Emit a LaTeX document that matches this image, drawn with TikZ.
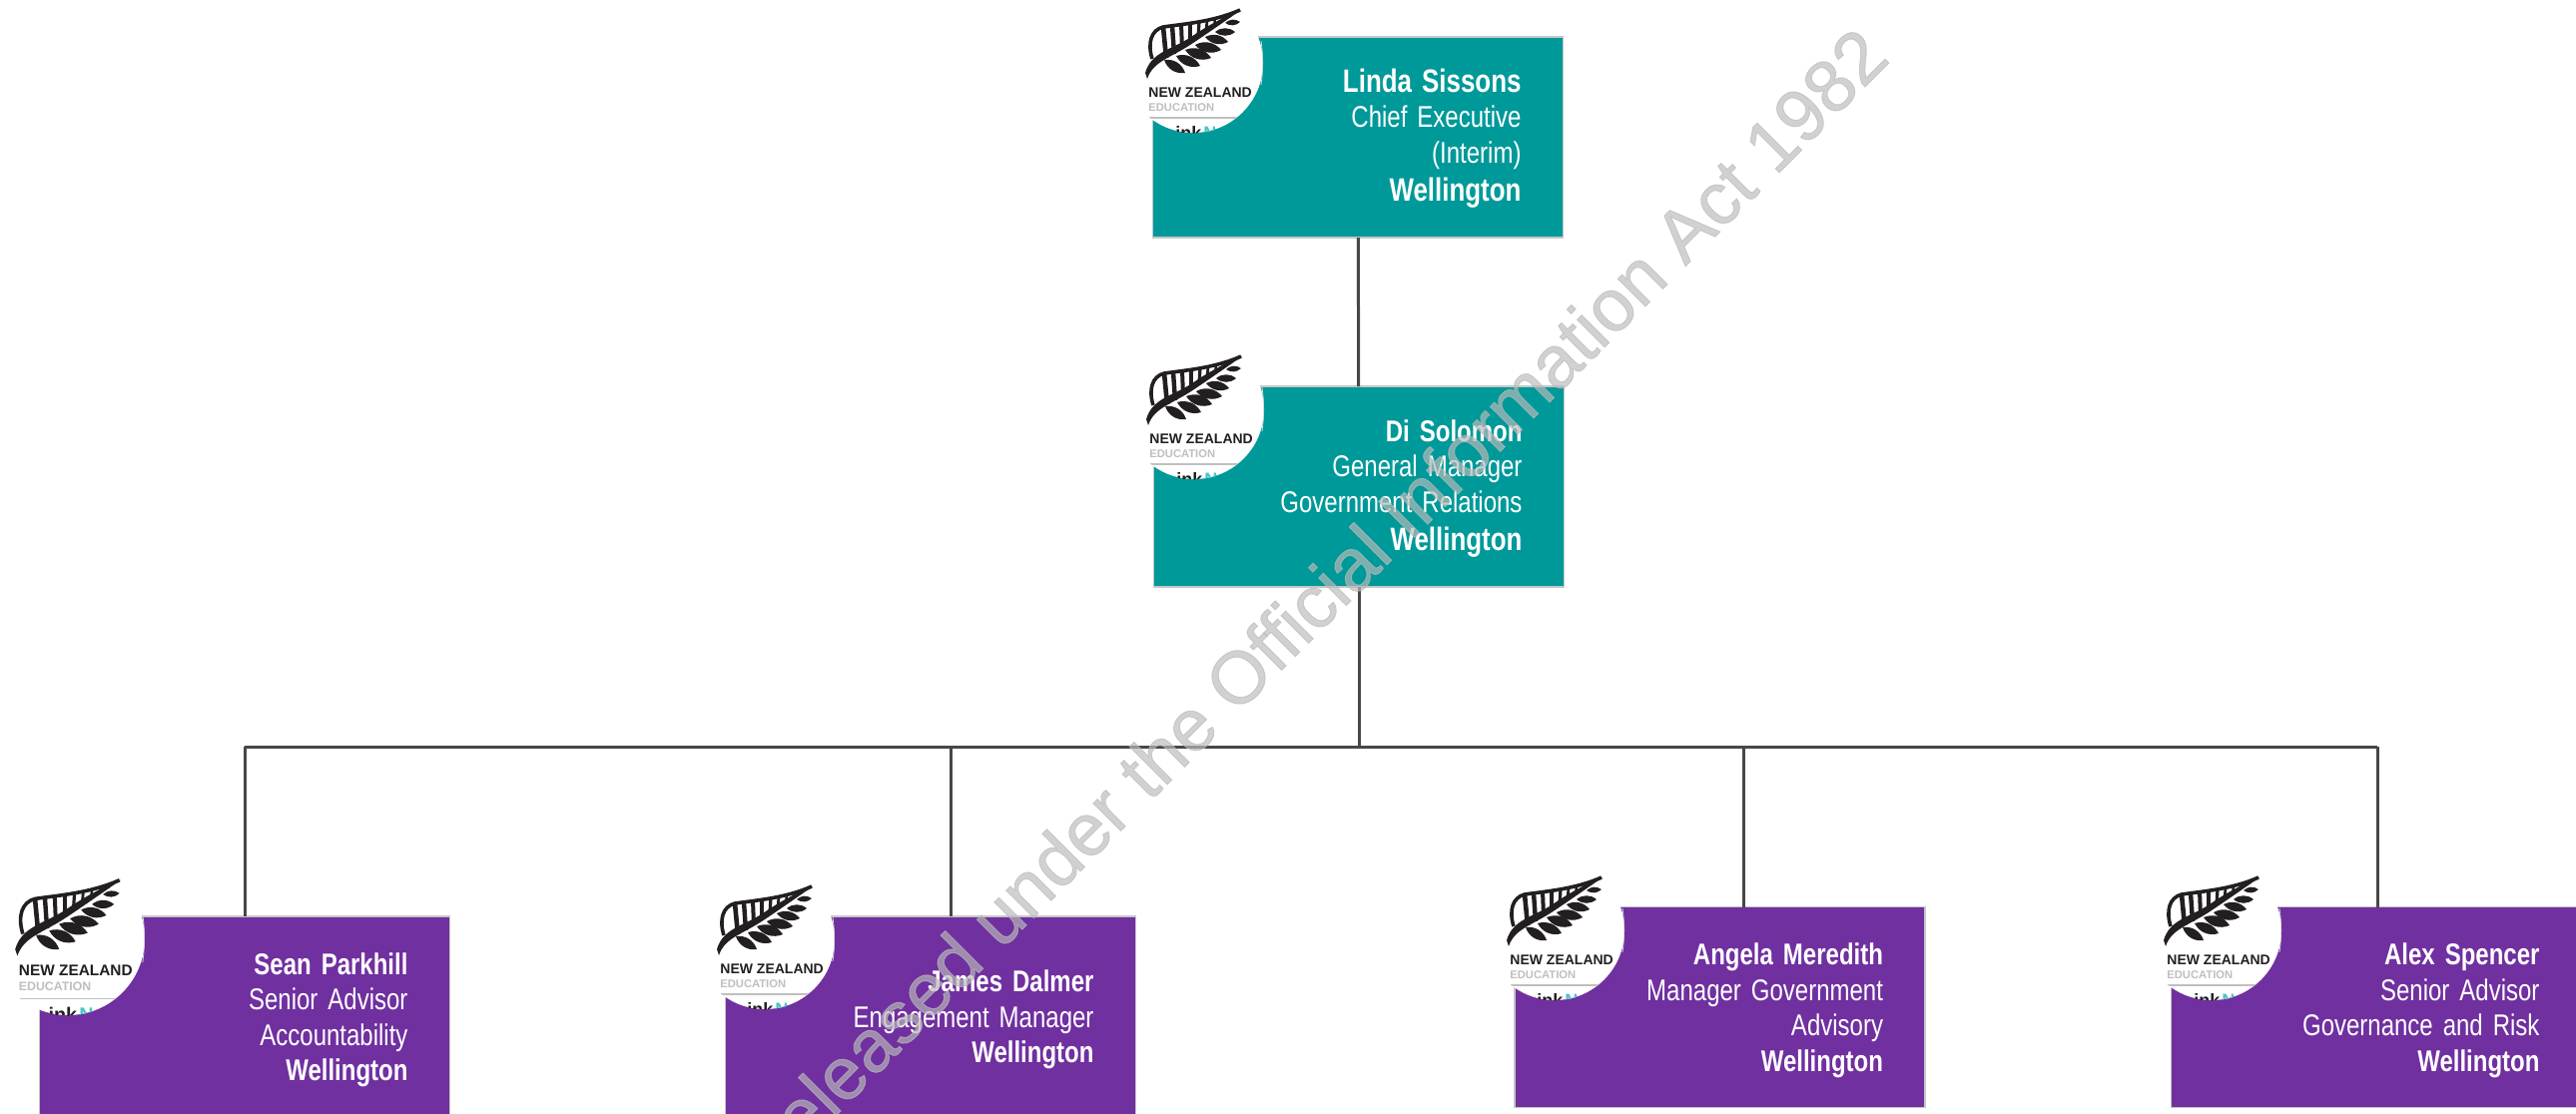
\documentclass[tikz,border=0pt]{standalone}
\usepackage{fontspec}
\setmainfont{Liberation Sans}
\newfontfamily\orgfont[FakeStretch=0.8]{Liberation Sans}
\newfontfamily\orgboldfont[FakeStretch=0.8]{Liberation Sans Bold}
\newfontfamily\markfont[FakeBold=1.2]{Liberation Sans}
\newcommand{\orgname}[1]{{\orgboldfont #1}}
\newcommand{\orgbig}[1]{{\orgboldfont\fontsize{16.2}{17.75}\selectfont #1}}
\usepackage{tikz}
\definecolor{orgteal}{RGB}{0,153,153}
\definecolor{orgpurple}{RGB}{112,48,160}
\definecolor{fernblack}{RGB}{35,31,32}
\definecolor{linkteal}{RGB}{77,195,200}

\newcommand{\nzlogo}[4]{
  \begin{scope}[shift={(#2,#3)},scale=#4]
    \fill[white] (0,0) circle (70);
    \draw[black!15] (68,-22) .. controls (70,-8) and (70,8) .. (68,22);
    \fill[fernblack] (-46,16) .. controls (-40,-2) and (-22,-5) .. (0,-20) .. controls (15,-30) and (35,-44) .. (48,-53) .. controls (33,-47) and (15,-38) .. (-2,-26) .. controls (-22,-13) and (-42,-11) .. (-48,10) -- cycle;
    \draw[fernblack, line width=1.8pt] (-41,-4) .. controls (-46,-20) and (-42,-33) .. (-30,-36) .. controls (-10,-39) and (20,-41) .. (47,-53);
    \foreach \tx/\ty/\bx/\by/\w in {-30/-36/-27/-5/2.3, -21/-37.5/-19/-9/2.2, -12/-39/-11/-14/2, -3/-40/-3/-20/1.8, 6/-41/5/-26/1.6, 14/-43/13/-31/1.4, 22/-45/21/-36/1.2, 30/-47.5/29/-41/1.1, 38/-50/37/-46/1}
      \draw[fernblack, line width=\w pt] (\tx,\ty) -- (\bx,\by);
    \foreach \ax/\ay/\bx/\by in {-29/-3/-8/10, -17/-7/7/3, -8/-13/18/-5, 2/-18/28/-13, 12/-26/35/-21, 22/-31/42/-31, 32/-40/47/-41}
      \fill[fernblack] (\ax,\ay) to[bend left=40] (\bx,\by) to[bend left=40] (\ax,\ay);
    \node (#1new) [anchor=base west, inner sep=0pt, transform shape, text=fernblack, font=\fontsize{7}{8}\selectfont\bfseries] at (-45,34) {NEW ZEALAND};
    \node (#1edu) [anchor=base west, inner sep=0pt, transform shape, text=black!25, font=\fontsize{5.6}{7}\selectfont\bfseries] at (-45,48) {EDUCATION};
    \begin{scope}
      \clip (0,0) circle (70);
      \draw[black!25, line width=.6pt] (-45,55) -- (45,55);
      \node (#1ink) [anchor=base west, inner sep=0pt, transform shape, text=fernblack, font=\fontsize{9}{10}\selectfont\bfseries] at (-18,76) {ink};
      \node (#1nz) [anchor=base west, inner sep=0pt, transform shape, text=linkteal, font=\fontsize{9}{10}\selectfont\bfseries] at (10,76) {N};
    \end{scope}
  \end{scope}
}

\begin{document}
\begin{tikzpicture}[x=0.5pt, y=-0.5pt, node distance=175pt]
  \tikzstyle{orgbox} = [rectangle, minimum width=205.5pt, minimum height=100.5pt, inner xsep=21pt, inner ysep=0pt, outer sep=0pt, text width=163.5pt, align=right, text=white, draw=black!22, line width=.75pt, font=\orgfont\fontsize{15}{17.75}\selectfont\spaceskip 3.3pt\relax]
  \tikzstyle{tealbox} = [orgbox, fill=orgteal, execute at begin node={\rule{0pt}{13pt}}]
  \tikzstyle{purplebox} = [orgbox, fill=orgpurple, execute at begin node={\rule{0pt}{14pt}}]
  \tikzstyle{line} = [draw=black!72, line width=1.5pt]

  \useasboundingbox (0,0) rectangle (2580,1115);
  \clip (0,0) rectangle (2580,1115);

  \node (linda) [tealbox, xshift=680pt, yshift=-68.75pt] {\orgbig{Linda Sissons}\\Chief Executive\\(Interim)\\[1.5pt]\orgbig{Wellington}};
  \node (disolomon) [tealbox, below of=linda, xshift=.5pt] {\orgname{Di Solomon}\\General Manager\\Government Relations\\[1.5pt]\orgbig{Wellington}};
  \node (sean) [purplebox, below of=disolomon, xshift=-558pt, yshift=-90.5pt] {\orgname{Sean Parkhill}\\Senior Advisor\\Accountability\\\orgname{Wellington}};
  \node (james) [purplebox, below of=disolomon, xshift=-214.5pt, yshift=-90.5pt] {\orgname{James Dalmer}\\Engagement Manager\\\orgname{Wellington}};
  \node (angela) [purplebox, below of=disolomon, xshift=180.75pt, yshift=-85.75pt] {\orgname{Angela Meredith}\\Manager Government\\Advisory\\\orgname{Wellington}};
  \node (alex) [purplebox, below of=disolomon, xshift=509.5pt, yshift=-85.75pt] {\orgname{Alex Spencer}\\Senior Advisor\\Governance and Risk\\\orgname{Wellington}};

  \coordinate (bussean) at (245,748);
  \coordinate (busjames) at (952,748);
  \coordinate (busangela) at (1746,748);
  \coordinate (busalex) at (2381,748);

  \draw [line] (linda) -- (disolomon);
  \draw [line] (disolomon.south) -- (disolomon.south |- bussean);
  \draw [line] (bussean) -- (busalex);
  \draw [line] (bussean) -- (bussean |- sean.north);
  \draw [line] (busjames) -- (busjames |- james.north);
  \draw [line] (busangela) -- (busangela |- angela.north);
  \draw [line] (busalex) -- (busalex |- alex.north);

  \nzlogo{lindalogo}{1195}{63}{1}
  \nzlogo{dilogo}{1196}{410}{1}
  \nzlogo{seanlogo}{68}{940}{1.1}
  \nzlogo{jameslogo}{766}{941}{1}
  \nzlogo{angelalogo}{1557}{932}{1}
  \nzlogo{alexlogo}{2215}{932}{1}

  \node (watermark) [anchor=base east, rotate=45, inner sep=0pt, text=black!27, text opacity=.67, font=\markfont\fontsize{37}{40}\selectfont] at (1895,60) {Released under the Official Information Act 1982};
\end{tikzpicture}
\end{document}
